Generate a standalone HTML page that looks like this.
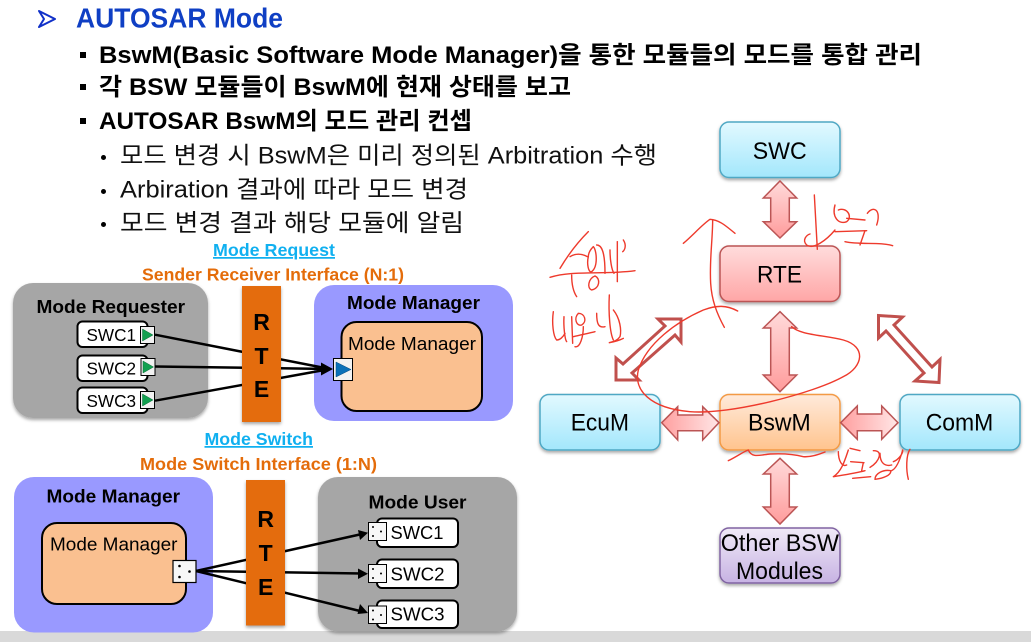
<!DOCTYPE html>
<html lang="ko">
<head>
<meta charset="utf-8">
<title>AUTOSAR Mode</title>
<style>
html,body{margin:0;padding:0;background:#fff;}
body{width:1031px;height:642px;overflow:hidden;}
svg{display:block;}
text{font-family:"Liberation Sans","Noto Sans CJK KR",sans-serif;fill:#000;}
.h{font-weight:700;font-size:24px;}
.s{font-size:24px;fill:#111;}
.b{font-weight:700;font-size:18.5px;}
.r{font-size:18.5px;}
.n{font-size:24.5px;text-anchor:start;}
.rte{font-weight:700;font-size:23px;text-anchor:middle;}
.ink path{fill:none;stroke:#ee3a2c;stroke-width:4.2;stroke-linecap:round;stroke-linejoin:round;}
</style>
</head>
<body>
<svg width="1031" height="642" viewBox="0 0 1031 642" xmlns="http://www.w3.org/2000/svg">
<defs>
<linearGradient id="gBlue" x1="0" y1="0" x2="0" y2="1"><stop offset="0" stop-color="#e2f9ff"/><stop offset="1" stop-color="#a3e7fc"/></linearGradient>
<linearGradient id="gRed" x1="0" y1="0" x2="0" y2="1"><stop offset="0" stop-color="#ffdcdc"/><stop offset="1" stop-color="#ffa6a6"/></linearGradient>
<linearGradient id="gOrg" x1="0" y1="0" x2="0" y2="1"><stop offset="0" stop-color="#ffeadb"/><stop offset="1" stop-color="#ffc48e"/></linearGradient>
<linearGradient id="gPur" x1="0" y1="0" x2="0" y2="1"><stop offset="0" stop-color="#f0eaf7"/><stop offset="1" stop-color="#c7b3e3"/></linearGradient>
<linearGradient id="aV" x1="0" y1="0" x2="0" y2="1"><stop offset="0" stop-color="#ffdada"/><stop offset="1" stop-color="#ff9c9c"/></linearGradient>
<linearGradient id="aH1" x1="0" y1="0" x2="1" y2="0"><stop offset="0" stop-color="#ff9f9f"/><stop offset="1" stop-color="#ffe6e6"/></linearGradient>
<filter id="sh" x="-10%" y="-10%" width="120%" height="125%"><feDropShadow dx="0" dy="2" stdDeviation="1.6" flood-color="#000" flood-opacity=".35"/></filter>
</defs>

<!-- footer -->
<rect x="0" y="631" width="1031" height="11" fill="#d9d9d9"/>

<!-- header text -->
<polygon points="39,11 55,19 39,27 44,19" fill="#fff" stroke="#1030c8" stroke-width="2" stroke-linejoin="round"/>
<text x="76" y="27.5" textLength="207" lengthAdjust="spacingAndGlyphs" style="font-size:28px;font-weight:700;fill:#0f3fc4">AUTOSAR Mode</text>

<rect x="80" y="52" width="6" height="6" fill="#000"/>
<rect x="80" y="84" width="6" height="6" fill="#000"/>
<rect x="80" y="118" width="6" height="6" fill="#000"/>
<text class="h" x="99" y="63" textLength="823" lengthAdjust="spacingAndGlyphs">BswM(Basic Software Mode Manager)을 통한 모듈들의 모드를 통합 관리</text>
<text class="h" x="99" y="95" textLength="472" lengthAdjust="spacingAndGlyphs">각 BSW 모듈들이 BswM에 현재 상태를 보고</text>
<text class="h" x="99" y="129" textLength="373" lengthAdjust="spacingAndGlyphs">AUTOSAR BswM의 모드 관리 컨셉</text>

<circle cx="103.500" cy="157.500" r="2.500" fill="#000"/>
<circle cx="103.500" cy="191.500" r="2.500" fill="#000"/>
<circle cx="103.500" cy="224.500" r="2.500" fill="#000"/>
<text class="s" x="120" y="163.500" textLength="537" lengthAdjust="spacingAndGlyphs">모드 변경 시 BswM은 미리 정의된 Arbitration 수행</text>
<text class="s" x="120" y="197.500" textLength="348" lengthAdjust="spacingAndGlyphs">Arbiration 결과에 따라 모드 변경</text>
<text class="s" x="120" y="231" textLength="344" lengthAdjust="spacingAndGlyphs">모드 변경 결과 해당 모듈에 알림</text>

<!-- Mode Request diagram -->
<text x="213" y="256" textLength="122" lengthAdjust="spacingAndGlyphs" text-decoration="underline" style="font-size:17.500px;font-weight:700;fill:#10b0f0">Mode Request</text>
<text x="142" y="280.500" textLength="262" lengthAdjust="spacingAndGlyphs" style="font-size:17.500px;font-weight:700;fill:#e46c0a">Sender Receiver Interface (N:1)</text>

<rect x="13" y="283" width="195" height="135" rx="20" fill="#a6a6a6" filter="url(#sh)"/>
<rect x="314" y="285" width="199" height="136" rx="20" fill="#9999ff"/>
<rect x="341.500" y="322" width="140.500" height="89" rx="15" fill="#fac090" stroke="#000" stroke-width="2"/>

<text class="b" x="36.500" y="313" textLength="148.500" lengthAdjust="spacingAndGlyphs">Mode Requester</text>
<text class="b" x="347" y="309" textLength="133" lengthAdjust="spacingAndGlyphs">Mode Manager</text>
<text class="r" x="348" y="350" textLength="128" lengthAdjust="spacingAndGlyphs">Mode Manager</text>

<g fill="#fff" stroke="#000" stroke-width="2">
<rect x="77.500" y="321.500" width="70" height="25.500" rx="5"/>
<rect x="77.500" y="355.500" width="70" height="25.500" rx="5"/>
<rect x="77.500" y="387.500" width="70" height="25.500" rx="5"/>
</g>
<g style="font-size:17.500px">
<text x="86.500" y="341" textLength="49.500" lengthAdjust="spacingAndGlyphs">SWC1</text>
<text x="86.500" y="374.500" textLength="49.500" lengthAdjust="spacingAndGlyphs">SWC2</text>
<text x="86.500" y="407" textLength="49.500" lengthAdjust="spacingAndGlyphs">SWC3</text>
</g>
<g fill="#f2f2f2" stroke="#000" stroke-width="1">
<rect x="140.500" y="326.500" width="14" height="17"/>
<rect x="141" y="358.500" width="14" height="17"/>
<rect x="140.500" y="391.500" width="14" height="17"/>
</g>
<g fill="#12a050" stroke="#0a6a38" stroke-width=".5">
<polygon points="142.500,329 153,335 142.500,341"/>
<polygon points="143,361 153.500,367 143,373"/>
<polygon points="142.500,394 153,400 142.500,406"/>
</g>

<g stroke="#000" stroke-width="2.500" fill="none">
<line x1="155" y1="334.700" x2="330" y2="369"/>
<line x1="155" y1="366.500" x2="330" y2="369"/>
<line x1="155" y1="400.700" x2="330" y2="369"/>
</g>
<polygon points="333,369 321,362.500 321,375.500" fill="#000"/>
<rect x="242" y="286" width="39" height="136" fill="#e46c0a" filter="url(#sh)"/>
<text class="rte" x="261.500" y="330">R</text>
<text class="rte" x="261.500" y="364">T</text>
<text class="rte" x="261.500" y="397">E</text>
<rect x="333.500" y="358.500" width="19" height="22" fill="#f2f2f2" stroke="#000" stroke-width="1"/>
<polygon points="336,362 351,369.500 336,377" fill="#0a70b8" stroke="#064a80" stroke-width=".5"/>

<!-- Mode Switch diagram -->
<text x="204.500" y="445" textLength="108.500" lengthAdjust="spacingAndGlyphs" text-decoration="underline" style="font-size:17.500px;font-weight:700;fill:#10b0f0">Mode Switch</text>
<text x="140" y="470" textLength="237" lengthAdjust="spacingAndGlyphs" style="font-size:17.500px;font-weight:700;fill:#e46c0a">Mode Switch Interface (1:N)</text>

<rect x="14" y="477" width="199" height="155.500" rx="20" fill="#9999ff"/>
<rect x="318" y="477" width="199" height="154.500" rx="20" fill="#a6a6a6" filter="url(#sh)"/>
<rect x="42" y="523" width="144" height="81" rx="15" fill="#fac090" stroke="#000" stroke-width="2"/>
<text class="b" x="46.500" y="502.500" textLength="133.500" lengthAdjust="spacingAndGlyphs">Mode Manager</text>
<text class="r" x="50" y="550.500" textLength="127.500" lengthAdjust="spacingAndGlyphs">Mode Manager</text>
<text class="b" x="368.500" y="508.500" textLength="98" lengthAdjust="spacingAndGlyphs">Mode User</text>

<g stroke="#000" stroke-width="2.500" fill="none">
<line x1="196" y1="571" x2="362" y2="534"/>
<line x1="196" y1="571" x2="362" y2="573.500"/>
<line x1="196" y1="571" x2="362" y2="611.500"/>
</g>
<g fill="#000">
<polygon points="368,532.700 358,530 360,540"/>
<polygon points="368,573.700 358,568.500 358,579"/>
<polygon points="368,613 360,604 357.500,614"/>
</g>
<rect x="246" y="480" width="39" height="145.500" fill="#e46c0a" filter="url(#sh)"/>
<text class="rte" x="265.700" y="527">R</text>
<text class="rte" x="265.700" y="561">T</text>
<text class="rte" x="265.700" y="595">E</text>

<g fill="#fff" stroke="#000" stroke-width="2">
<rect x="377" y="518.500" width="81" height="28.500" rx="5"/>
<rect x="377" y="559.500" width="81" height="28.500" rx="5"/>
<rect x="377" y="600.500" width="81" height="27.500" rx="5"/>
</g>
<g style="font-size:18.500px">
<text x="390.500" y="539" textLength="53" lengthAdjust="spacingAndGlyphs">SWC1</text>
<text x="390.500" y="580.500" textLength="54" lengthAdjust="spacingAndGlyphs">SWC2</text>
<text x="390.500" y="620.500" textLength="54" lengthAdjust="spacingAndGlyphs">SWC3</text>
</g>
<g fill="#f7f7f7" stroke="#000" stroke-width="1">
<rect x="368.500" y="522.500" width="18" height="18"/>
<rect x="368.500" y="564.500" width="18" height="18"/>
<rect x="368.500" y="606" width="18" height="17.500"/>
<rect x="173" y="560.500" width="23" height="22" stroke-width="1.200"/>
</g>
<g fill="#000">
<circle cx="373" cy="527" r="1"/><circle cx="381" cy="531.500" r="1"/><circle cx="373" cy="536" r="1"/>
<circle cx="373" cy="569" r="1"/><circle cx="381" cy="573.500" r="1"/><circle cx="373" cy="578" r="1"/>
<circle cx="373" cy="610.500" r="1"/><circle cx="381" cy="615" r="1"/><circle cx="373" cy="619.500" r="1"/>
<circle cx="179.500" cy="566" r="1.300"/><circle cx="189.500" cy="571.500" r="1.300"/><circle cx="179.500" cy="577" r="1.300"/>
</g>

<!-- Right-hand diagram: nodes -->
<g stroke-width="1.500" filter="url(#sh)">
<rect x="720" y="122" width="120" height="55.500" rx="9" fill="url(#gBlue)" stroke="#4fa8c4"/>
<rect x="720" y="246" width="120" height="55.500" rx="9" fill="url(#gRed)" stroke="#bb5555"/>
<rect x="540" y="394.500" width="120" height="55.500" rx="9" fill="url(#gBlue)" stroke="#4fa8c4"/>
<rect x="720" y="394.500" width="120" height="55.500" rx="9" fill="url(#gOrg)" stroke="#f39a45"/>
<rect x="900" y="394.500" width="120" height="55.500" rx="9" fill="url(#gBlue)" stroke="#4fa8c4"/>
<rect x="720" y="528" width="120" height="55" rx="9" fill="url(#gPur)" stroke="#8064a2"/>
</g>
<text class="n" x="752.700" y="159" textLength="54" lengthAdjust="spacingAndGlyphs">SWC</text>
<text class="n" x="757" y="282.700" textLength="45" lengthAdjust="spacingAndGlyphs">RTE</text>
<text class="n" x="570.700" y="430.700" textLength="58.300" lengthAdjust="spacingAndGlyphs">EcuM</text>
<text class="n" x="748" y="430.700" textLength="62.700" lengthAdjust="spacingAndGlyphs">BswM</text>
<text class="n" x="925.700" y="430.700" textLength="67.600" lengthAdjust="spacingAndGlyphs">ComM</text>
<text class="n" x="720.700" y="551" textLength="118.300" lengthAdjust="spacingAndGlyphs">Other BSW</text>
<text class="n" x="736" y="579" textLength="87" lengthAdjust="spacingAndGlyphs">Modules</text>

<!-- Right-hand diagram: arrows -->
<g stroke="#bb5555" stroke-width="1.500" stroke-linejoin="miter">
<polygon fill="url(#aV)" points="780,181 796.700,198 789.300,198 789.300,221.700 796.700,221.700 780,238 763.300,221.700 770.700,221.700 770.700,198 763.300,198"/>
<polygon fill="url(#aV)" points="780,311.700 796.700,328 789.300,328 789.300,375 796.700,375 780,391.700 763.300,375 770.700,375 770.700,328 763.300,328"/>
<polygon fill="url(#aV)" points="780,458.300 796.700,474 789.300,474 789.300,507 796.700,507 780,524 763.300,507 770.700,507 770.700,474 763.300,474"/>
<polygon fill="url(#aH1)" points="661.700,422.700 677.700,406.700 677.700,415 702.700,415 702.700,406.700 719,422.700 702.700,440 702.700,430.700 677.700,430.700 677.700,440"/>
<polygon fill="url(#aH1)" points="840.700,422.700 857.300,406 857.300,414 881.700,414 881.700,406 898,422.700 881.700,439.300 881.700,430.700 857.300,430.700 857.300,439.300"/>
</g>
<g fill="#fff" stroke="#c0504d" stroke-width="3" stroke-linejoin="miter">
<polygon points="616,380 616,358 623,364 665,326 658,319 681,319 681,342 675,335 632,373 639,380"/>
<polygon points="878.500,315.500 902.500,317 894,325 932,367 940,359.500 939,382.500 915,381 924,373 886,331 878.500,338"/>
</g>

<!-- Handwritten red ink annotations -->
<g class="ink" transform="translate(530,110) scale(.33333)">
<path d="M583 652 C560 610 545 570 542 520 C538 450 548 390 548 330"/>
<path d="M460 400 C490 375 515 345 540 328 C570 330 590 350 615 370"/>
<path d="M623 603 C590 585 560 585 520 600 C440 635 350 700 325 780 C310 840 360 895 480 905 C600 915 850 850 940 800 C1000 770 1010 710 940 690 C880 675 810 675 785 650"/>
<!-- upper right note -->
<path d="M853 255 L862 418"/>
<path d="M915 360 C890 390 850 420 830 405 C815 390 830 375 840 372"/>
<path d="M915 285 C905 320 925 345 950 335 C970 320 950 290 925 300"/>
<path d="M950 325 L1005 330"/>
<path d="M1012 310 C1030 285 1055 300 1040 345"/>
<path d="M915 365 L1010 362"/>
<path d="M1005 362 L990 405"/>
<path d="M945 395 C990 405 1050 395 1088 407"/>
<!-- left note, upper -->
<path d="M175 365 C150 390 120 425 90 475"/>
<path d="M120 440 C135 430 155 430 172 440"/>
<path d="M60 502 C130 480 220 495 315 482"/>
<path d="M125 495 C125 520 130 545 140 560"/>
<path d="M175 440 C170 460 175 490 185 485 C205 470 200 420 190 410 C180 420 175 430 175 440"/>
<path d="M200 405 C215 405 225 425 225 490"/>
<path d="M240 420 C240 450 245 480 252 490"/>
<path d="M262 395 L262 515"/>
<path d="M280 390 C290 405 285 420 278 425"/>
<path d="M195 498 C175 505 170 535 185 540 C210 535 212 505 195 498"/>
<!-- left note, lower -->
<path d="M70 605 C65 640 70 680 80 690 C90 690 100 680 105 670"/>
<path d="M102 620 C100 650 105 690 110 695"/>
<path d="M125 620 L128 700"/>
<path d="M145 610 C130 625 140 650 155 645 C172 635 165 610 145 610"/>
<path d="M130 680 C150 675 175 670 195 665"/>
<path d="M160 650 C160 680 150 715 135 710"/>
<path d="M200 610 C200 640 205 655 225 650"/>
<path d="M238 555 C235 610 240 670 250 690"/>
<path d="M250 600 C270 625 275 660 270 680 C260 695 245 695 238 698 C255 695 270 690 280 685"/>
</g>
<g class="ink" transform="translate(530,380) scale(.33333)">
<path d="M595 242 C620 230 640 215 655 210 C665 235 690 225 720 222 C760 220 790 222 820 230 C845 232 870 222 885 216"/>
<!-- lower right note -->
<path d="M925 215 C925 240 935 262 950 255"/>
<path d="M955 210 C945 240 935 275 910 290 C940 285 975 280 1005 272"/>
<path d="M960 205 L990 212"/>
<path d="M962 245 L1002 248"/>
<path d="M1000 248 L995 272"/>
<path d="M968 295 L1022 290"/>
<path d="M1030 212 C1060 210 1050 245 1020 262"/>
<path d="M1050 220 C1050 250 1065 260 1085 255"/>
<path d="M1035 298 C1060 295 1085 285 1082 272 C1060 268 1035 280 1035 298"/>
<path d="M1090 245 C1105 240 1120 220 1118 210 C1110 240 1100 265 1085 272"/>
<path d="M1140 208 C1128 225 1128 270 1135 298"/>
</g>
</svg>
</body>
</html>
